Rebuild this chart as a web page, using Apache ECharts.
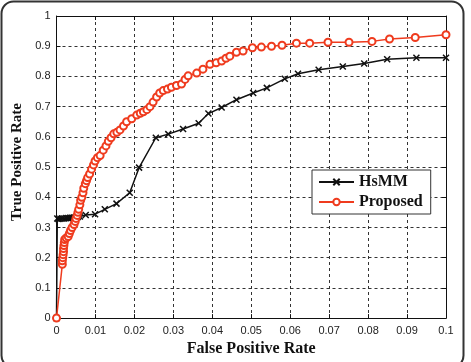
<!DOCTYPE html>
<html>
<head>
<meta charset="utf-8">
<script src="https://cdn.jsdelivr.net/npm/echarts@6/dist/echarts.min.js"></script>
<style>
html,body{margin:0;padding:0;background:#fff;}
#chart{width:471px;height:362px;}
</style>
</head>
<body>
<div id="chart"></div>
<script>
// Data
var seriesNames = ['HsMM', 'Proposed'];
var xTickLabels = ['0','0.01','0.02','0.03','0.04','0.05','0.06','0.07','0.08','0.09','0.1'];
var yTickLabels = ['0','0.1','0.2','0.3','0.4','0.5','0.6','0.7','0.8','0.9','1'];

var hsmmFPR = [0,0.0002,0.0005,0.001,0.0015,0.002,0.0025,0.003,0.0035,0.004,0.0045,0.005,0.0055,0.006,0.0075,0.0099,0.0124,0.0154,0.0188,0.0212,0.0255,0.0287,0.0325,0.0365,0.039,0.0424,0.0462,0.0505,0.054,0.0586,0.062,0.0673,0.0735,0.079,0.0849,0.0924,0.1];
var hsmmTPR = [0,0.33,0.328,0.329,0.33,0.33,0.331,0.331,0.332,0.332,0.333,0.334,0.335,0.336,0.341,0.344,0.36,0.379,0.415,0.498,0.597,0.609,0.626,0.645,0.677,0.697,0.723,0.745,0.762,0.792,0.809,0.822,0.833,0.843,0.857,0.862,0.862];

var propFPR = [0,0.0015,0.0015,0.0016,0.0017,0.0018,0.0018,0.0019,0.002,0.0021,0.0025,0.003,0.0033,0.0036,0.004,0.0045,0.0048,0.005,0.0053,0.0055,0.0057,0.006,0.0062,0.0065,0.0068,0.007,0.0074,0.0077,0.008,0.0085,0.009,0.0095,0.0099,0.0105,0.0112,0.012,0.0127,0.0133,0.014,0.0147,0.0155,0.0163,0.0172,0.018,0.0193,0.0206,0.0215,0.0223,0.0232,0.024,0.0248,0.0257,0.0265,0.0274,0.0285,0.0295,0.0308,0.0321,0.033,0.0338,0.036,0.0376,0.0394,0.041,0.0424,0.0435,0.0445,0.0462,0.0479,0.0503,0.0526,0.0552,0.0579,0.0616,0.065,0.0697,0.0751,0.081,0.0855,0.0921,0.1];
var propTPR = [0,0.178,0.19,0.2,0.21,0.22,0.23,0.24,0.25,0.26,0.265,0.27,0.28,0.29,0.3,0.31,0.32,0.33,0.34,0.35,0.36,0.375,0.39,0.4,0.415,0.43,0.445,0.455,0.465,0.477,0.493,0.507,0.52,0.531,0.538,0.556,0.57,0.585,0.597,0.61,0.615,0.623,0.636,0.65,0.66,0.672,0.678,0.683,0.69,0.7,0.715,0.732,0.745,0.753,0.758,0.764,0.77,0.775,0.79,0.802,0.811,0.824,0.84,0.845,0.851,0.86,0.867,0.88,0.884,0.895,0.897,0.9,0.903,0.91,0.91,0.913,0.913,0.916,0.924,0.929,0.938];

function zip(a,b){ var r=[]; for(var i=0;i<a.length;i++) r.push([a[i],b[i]]); return r; }

var chart = echarts.init(document.getElementById('chart'), null, {renderer:'canvas'});
var serif = '"Liberation Serif", "Times New Roman", serif';
var sans = '"Liberation Sans", Arial, sans-serif';
var splitStyle = {show:true, lineStyle:{color:'#333', width:1, type:[3,3]}};

function xFmt(v){ var i = Math.round(v*100); return xTickLabels[i] !== undefined ? xTickLabels[i] : ''; }
function yFmt(v){ var i = Math.round(v*10); return yTickLabels[i] !== undefined ? yTickLabels[i] : ''; }

var option = {
  animation:false,
  backgroundColor:'#fff',
  grid:{left:56.5, right:25, top:16, bottom:39, show:false},
  legend:{
    orient:'vertical', left:312, top:170,
    backgroundColor:'#fff', borderColor:'#333', borderWidth:1,
    padding:[4,8,4,6], itemGap:4, itemWidth:35, itemHeight:8,
    textStyle:{fontFamily:serif, fontWeight:'bold', fontSize:16, color:'#111'},
    data:seriesNames
  },
  xAxis:[{
    type:'value', min:0, max:0.1, interval:0.01, position:'bottom',
    axisLine:{show:true, lineStyle:{color:'#111', width:1}},
    axisTick:{show:true, inside:true, length:4, lineStyle:{color:'#111'}},
    axisLabel:{formatter:xFmt, fontFamily:sans, fontSize:11, color:'#222', margin:7},
    splitLine:splitStyle,
    name:'False Positive Rate', nameLocation:'middle', nameGap:20,
    nameTextStyle:{fontFamily:serif, fontWeight:'bold', fontSize:16, color:'#111'}
  },{
    type:'value', min:0, max:0.1, interval:0.01, position:'top',
    axisLine:{show:true, onZero:false, lineStyle:{color:'#111', width:1}},
    axisTick:{show:true, inside:true, length:4, lineStyle:{color:'#111'}},
    axisLabel:{show:false}, splitLine:{show:false}
  }],
  yAxis:[{
    type:'value', min:0, max:1, interval:0.1, position:'left',
    axisLine:{show:true, lineStyle:{color:'#111', width:1}},
    axisTick:{show:true, inside:true, length:4, lineStyle:{color:'#111'}},
    axisLabel:{formatter:yFmt, fontFamily:sans, fontSize:11, color:'#222', margin:6},
    splitLine:splitStyle,
    name:'True Positive Rate', nameLocation:'middle', nameGap:27,
    nameTextStyle:{fontFamily:serif, fontWeight:'bold', fontSize:15, color:'#111', padding:[0,0,0,10]}
  },{
    type:'value', min:0, max:1, interval:0.1, position:'right',
    axisLine:{show:true, onZero:false, lineStyle:{color:'#111', width:1}},
    axisTick:{show:true, inside:true, length:4, lineStyle:{color:'#111'}},
    axisLabel:{show:false}, splitLine:{show:false}
  }],
  series:[{
    name:seriesNames[0], type:'line', xAxisIndex:0, yAxisIndex:0,
    data:zip(hsmmFPR, hsmmTPR),
    symbol:'path://M0,0L10,10M10,0L0,10', symbolSize:6,
    lineStyle:{color:'#111', width:1.5},
    itemStyle:{color:'#111', borderColor:'#111', borderWidth:1.5},
    clip:true, z:2
  },{
    name:seriesNames[1], type:'line', xAxisIndex:0, yAxisIndex:0,
    data:zip(propFPR, propTPR),
    symbol:'emptyCircle', symbolSize:7,
    lineStyle:{color:'#ef3b1e', width:1.5},
    itemStyle:{color:'#ef3b1e', borderColor:'#ef3b1e', borderWidth:1.3},
    clip:true, z:3
  }],
  graphic:[{
    type:'rect', silent:true, z:100,
    shape:{x:1.5, y:1.5, width:462, height:366, r:12},
    style:{fill:null, stroke:'#333', lineWidth:2}
  }]
};
chart.setOption(option);
</script>
</body>
</html>
